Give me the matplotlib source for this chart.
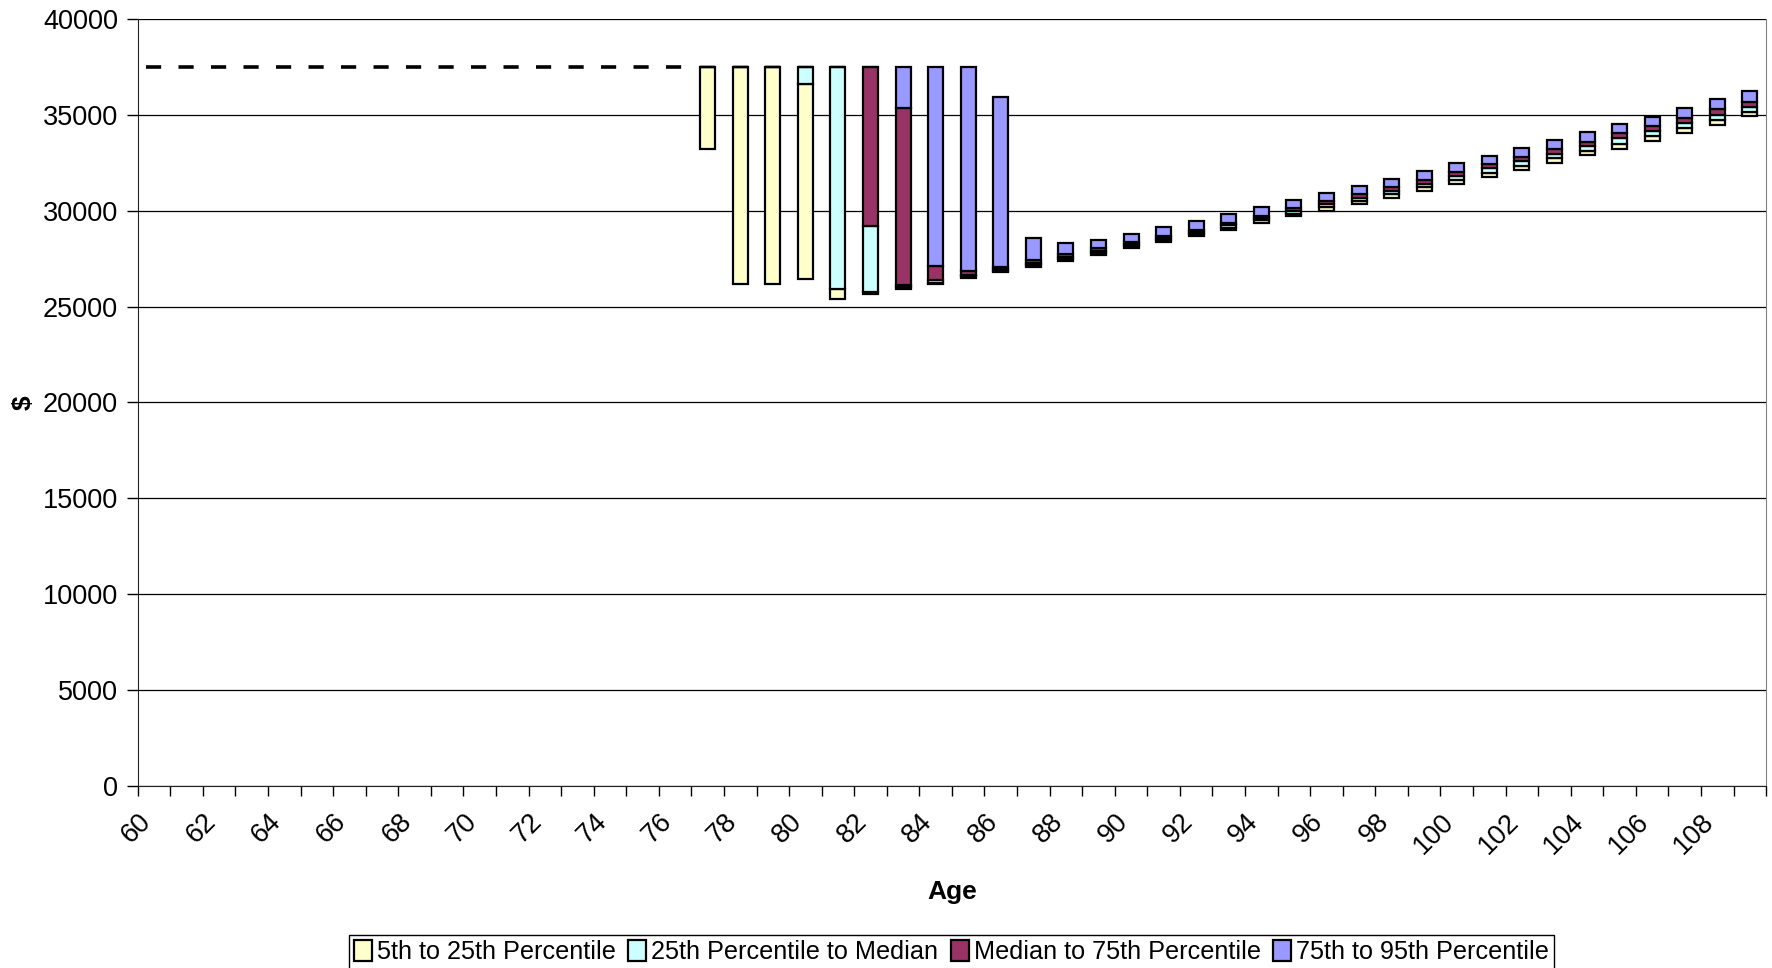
import numpy as np
import matplotlib
matplotlib.use("Agg")
import matplotlib.pyplot as plt
import matplotlib.transforms as mtransforms

plt.rcParams['font.family'] = ['Liberation Sans', 'DejaVu Sans']

# 年龄（有柱子的部分）
ages = list(range(77, 110))
p5 = [33200, 26200, 26200, 26420, 25400, 25660, 25920, 26180, 26500, 26790,
      27080, 27400, 27710, 28040, 28350, 28680, 29010, 29380, 29700, 30000,
      30350, 30660, 31040, 31390, 31770, 32120, 32480, 32900, 33240, 33650,
      34040, 34460, 34920]
p25 = [37500, 37500, 37500, 36600, 25900, 25760, 26000, 26250, 26580, 26870,
       27180, 27500, 27810, 28140, 28460, 28790, 29120, 29500, 29840, 30170,
       30520, 30860, 31230, 31600, 31990, 32350, 32730, 33140, 33500, 33910,
       34310, 34730, 35170]
p50 = [37500, 37500, 37500, 37500, 37500, 29200, 26120, 26380, 26670, 26950,
       27300, 27600, 27920, 28250, 28570, 28900, 29240, 29620, 29980, 30330,
       30690, 31050, 31420, 31810, 32210, 32580, 32970, 33380, 33770, 34170,
       34590, 35010, 35390]
p75 = [37500, 37500, 37500, 37500, 37500, 37500, 35350, 27140, 26870, 27050,
       27440, 27720, 28060, 28380, 28700, 29010, 29360, 29750, 30120, 30500,
       30860, 31250, 31610, 32030, 32430, 32810, 33210, 33610, 34030, 34430,
       34860, 35280, 35650]
p95 = [37500, 37500, 37500, 37500, 37500, 37500, 37500, 37500, 37500, 35950,
       28560, 28310, 28470, 28780, 29130, 29440, 29820, 30170, 30550, 30900,
       31300, 31680, 32080, 32480, 32870, 33260, 33680, 34080, 34510, 34910,
       35380, 35820, 36250]

# 虚线（退休前收入水平）
line_ages = list(range(60, 77))
line_vals = [37500] * len(line_ages)

labels = ["5th to 25th Percentile", "25th Percentile to Median",
          "Median to 75th Percentile", "75th to 95th Percentile"]
colors = ["#FFFFCC", "#CCFFFF", "#993366", "#9999FF"]

fig = plt.figure(figsize=(17.72, 9.68), dpi=100)
ax = fig.add_axes([0.0777, 0.188, 0.919, 0.7924])

x = np.array(ages)
bounds = [np.array(p5), np.array(p25), np.array(p50), np.array(p75), np.array(p95)]
for i in range(4):
    ax.bar(x, bounds[i + 1] - bounds[i], bottom=bounds[i], width=0.46,
           color=colors[i], edgecolor="black", linewidth=1.6, label=labels[i], zorder=3)

# 虚线两端比类别中心多出一点（Excel 折线的样子）
ax.hlines(line_vals[0], line_ages[0] - 0.25, line_ages[-1] + 0.25, color="black",
          linewidth=2.6, linestyle=(0, (4.2, 4.8)), zorder=4)

# 坐标轴
ax.set_xlim(59.5, 109.5)
ax.set_ylim(0, 40000)
ax.set_yticks(range(0, 40001, 5000))
ax.yaxis.grid(True, color="black", linewidth=0.9, zorder=0)
ax.set_axisbelow(True)

ax.set_xticks(range(60, 110, 2))
ax.set_xticks(np.arange(59.5, 110, 1), minor=True)
ax.tick_params(axis="x", which="major", length=0, pad=23, labelsize=19.5)
ax.tick_params(axis="x", which="minor", length=7, width=1, direction="out")
ax.tick_params(axis="y", length=8, width=1, pad=6, labelsize=19.5)
shift = mtransforms.ScaledTranslation(-7 / 100, 0, fig.dpi_scale_trans)
for lbl in ax.get_xticklabels():
    lbl.set_rotation(45)
    lbl.set_ha("right")
    lbl.set_va("center")
    lbl.set_rotation_mode("anchor")
    lbl.set_transform(lbl.get_transform() + shift)

ax.spines["top"].set_visible(False)
ax.spines["right"].set_color("#808080")
ax.spines["left"].set_color("#222222")
ax.spines["bottom"].set_color("#222222")

ax.set_xlabel("Age", fontsize=19, fontweight="bold", labelpad=15)
ax.set_ylabel("$", fontsize=19, fontweight="bold", labelpad=5)

fig.legend(loc="lower center", bbox_to_anchor=(0.537, -0.004), ncol=4, fontsize=18.2,
           frameon=True, fancybox=False, edgecolor="black", borderpad=0.2,
           borderaxespad=0.1, handlelength=0.7, handleheight=0.9, handletextpad=0.2,
           columnspacing=0.5, framealpha=1)

fig.savefig("out.png", dpi=100)
